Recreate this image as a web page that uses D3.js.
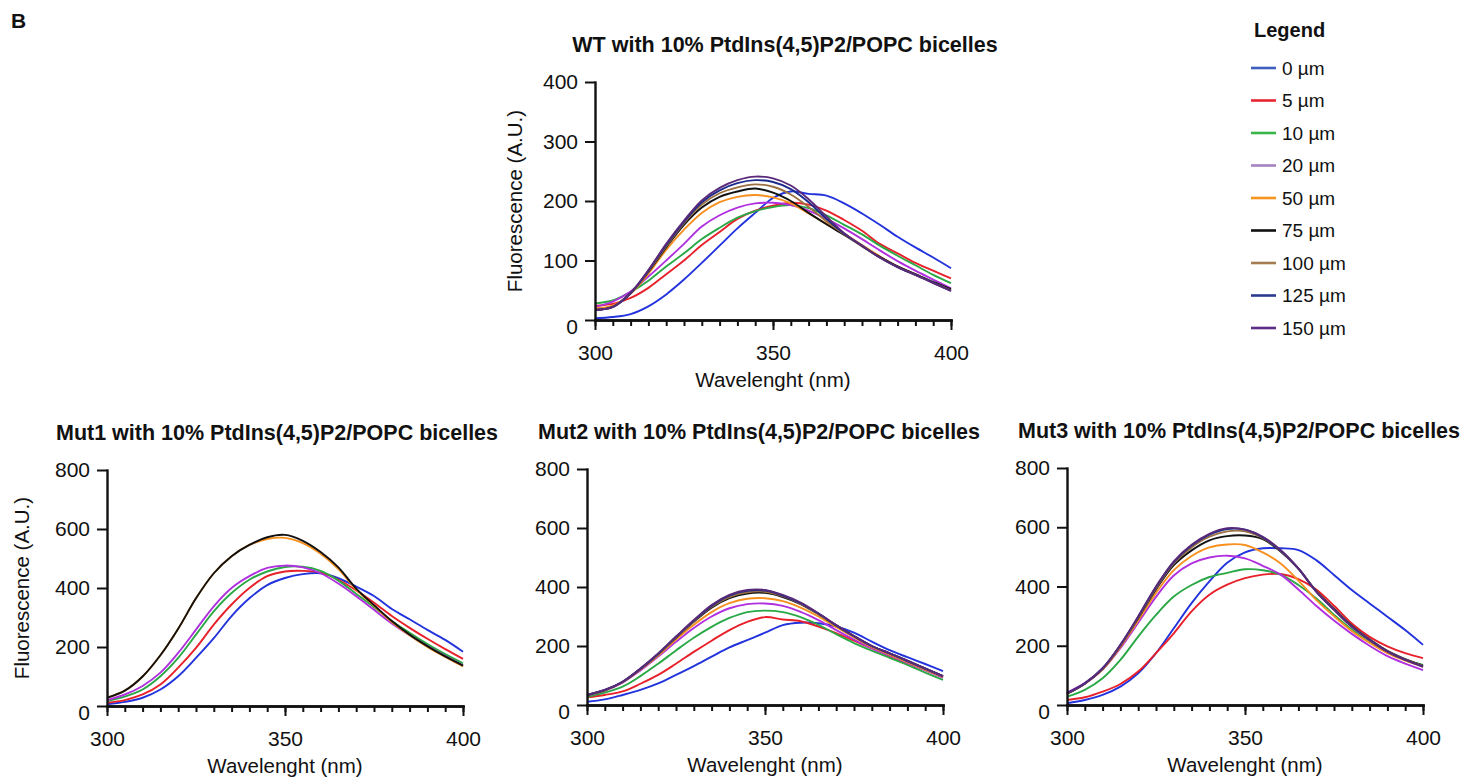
<!DOCTYPE html>
<html>
<head>
<meta charset="utf-8">
<script src="https://cdn.jsdelivr.net/npm/d3@7"></script>
<style>
    body { margin: 0; background: #fff; }
    svg text { font-family: "Liberation Sans", Arial, Helvetica, sans-serif; fill: #111; }
</style>
</head>
<body>
<div id="graph"></div>
<script>
var wavelengths = [ 300, 305, 310, 315, 320, 325, 330, 335, 340, 345, 350, 355, 360, 365, 370, 375, 380, 385, 390, 395, 400 ];
var concentrations = [ "0 µm", "5 µm", "10 µm", "20 µm", "50 µm", "75 µm", "100 µm", "125 µm", "150 µm" ];

// curve colours as they look in the plots, legend swatches are a bit softer
var lineColors = [ "#2233dd", "#e8202a", "#2aa845", "#b030e0", "#f7901e", "#111111", "#9c7040", "#1c2a8c", "#5a2a7a" ];
var legendColors = [ "#3f5fbf", "#e82530", "#3ab54a", "#a683c0", "#f7941d", "#111111", "#a57c52", "#2b3a8e", "#5c2d82" ];

var panelTitles = [
    "WT with 10% PtdIns(4,5)P2/POPC bicelles",
    "Mut1 with 10% PtdIns(4,5)P2/POPC bicelles",
    "Mut2 with 10% PtdIns(4,5)P2/POPC bicelles",
    "Mut3 with 10% PtdIns(4,5)P2/POPC bicelles"
];
var xTickValues = [ 300, 350, 400 ];
var wtYTicks = [ 0, 100, 200, 300, 400 ];
var mutYTicks = [ 0, 200, 400, 600, 800 ];

// one row per concentration, one value per wavelength (A.U.)
var wtValues = [
    [ 3, 5, 10, 23, 43, 68, 96, 125, 154, 180, 205, 216, 212, 209, 196, 179, 160, 140, 122, 105, 87 ],
    [ 24, 27, 37, 54, 77, 100, 126, 148, 170, 184, 192, 197, 194, 184, 168, 150, 128, 112, 96, 83, 70 ],
    [ 28, 33, 47, 66, 90, 112, 136, 155, 172, 183, 190, 193, 188, 176, 160, 144, 125, 108, 92, 76, 62 ],
    [ 22, 31, 48, 73, 100, 128, 157, 176, 189, 196, 197, 193, 184, 170, 154, 136, 117, 99, 83, 68, 53 ],
    [ 20, 24, 44, 78, 118, 152, 180, 198, 207, 210, 206, 196, 179, 162, 145, 126, 107, 90, 77, 63, 50 ],
    [ 17, 22, 45, 81, 122, 160, 189, 207, 216, 221, 214, 200, 180, 161, 143, 124, 106, 90, 77, 64, 52 ],
    [ 17, 22, 45, 82, 124, 163, 194, 213, 223, 228, 224, 211, 190, 166, 144, 124, 105, 89, 76, 63, 50 ],
    [ 17, 22, 45, 83, 126, 165, 198, 218, 230, 235, 232, 220, 198, 170, 145, 125, 105, 89, 76, 63, 49 ],
    [ 17, 22, 46, 84, 128, 167, 201, 222, 235, 241, 238, 226, 203, 174, 146, 125, 105, 89, 76, 62, 49 ]
];
var mut1Values = [
    [ 6, 14, 28, 56, 101, 163, 230, 305, 365, 410, 434, 447, 450, 433, 405, 373, 329, 294, 258, 224, 184 ],
    [ 11, 20, 39, 73, 130, 197, 276, 344, 400, 440, 456, 458, 452, 428, 392, 350, 305, 265, 228, 193, 160 ],
    [ 17, 32, 56, 101, 163, 242, 321, 383, 428, 456, 471, 472, 458, 425, 380, 335, 288, 248, 210, 176, 145 ],
    [ 20, 39, 68, 113, 180, 259, 338, 400, 440, 468, 476, 470, 450, 415, 372, 326, 280, 240, 203, 169, 137 ],
    [ 28, 52, 100, 172, 262, 365, 450, 508, 546, 566, 570, 552, 516, 464, 395, 340, 285, 240, 200, 166, 134 ],
    [ 28, 52, 100, 172, 262, 365, 450, 508, 546, 572, 580, 560, 522, 470, 398, 342, 288, 242, 203, 168, 137 ],
    null,
    null,
    null
];
var mut2Values = [
    [ 11, 19, 34, 51, 73, 102, 132, 164, 195, 220, 245, 271, 279, 277, 266, 245, 215, 186, 162, 139, 115 ],
    [ 26, 34, 46, 72, 102, 140, 180, 218, 254, 282, 298, 290, 284, 266, 244, 218, 192, 166, 142, 118, 94 ],
    [ 28, 42, 62, 98, 140, 185, 228, 265, 295, 315, 320, 315, 298, 272, 240, 210, 184, 160, 136, 110, 85 ],
    [ 33, 49, 76, 117, 164, 214, 261, 300, 328, 342, 344, 336, 316, 288, 254, 222, 192, 168, 143, 118, 93 ],
    [ 34, 50, 77, 120, 168, 222, 272, 315, 345, 360, 362, 352, 330, 300, 264, 229, 196, 171, 145, 120, 95 ],
    [ 34, 50, 78, 122, 172, 228, 282, 330, 362, 378, 380, 366, 342, 308, 270, 234, 200, 175, 150, 124, 98 ],
    [ 34, 50, 78, 122, 172, 229, 284, 333, 366, 382, 384, 369, 343, 309, 270, 233, 199, 174, 148, 122, 97 ],
    [ 34, 51, 79, 123, 174, 231, 286, 336, 371, 387, 388, 371, 345, 310, 270, 233, 200, 175, 149, 123, 98 ],
    [ 34, 51, 79, 124, 175, 232, 288, 339, 373, 390, 390, 373, 347, 311, 271, 234, 200, 175, 150, 124, 98 ]
];
var mut3Values = [
    [ 6, 17, 34, 62, 107, 175, 259, 344, 417, 480, 515, 529, 529, 523, 489, 439, 388, 343, 298, 253, 203 ],
    [ 17, 26, 45, 71, 113, 175, 242, 316, 372, 406, 428, 440, 442, 425, 390, 335, 275, 230, 198, 175, 158 ],
    [ 28, 51, 90, 152, 231, 304, 366, 405, 432, 446, 458, 455, 440, 405, 360, 305, 255, 212, 178, 152, 135 ],
    [ 42, 74, 120, 192, 278, 365, 437, 478, 498, 504, 495, 470, 440, 390, 335, 285, 240, 200, 165, 140, 118 ],
    [ 39, 72, 120, 196, 285, 378, 455, 503, 532, 542, 540, 515, 478, 420, 355, 300, 250, 210, 175, 150, 130 ],
    [ 38, 72, 122, 200, 293, 390, 472, 522, 556, 570, 572, 560, 518, 460, 385, 325, 268, 222, 183, 155, 133 ],
    [ 38, 72, 122, 200, 295, 394, 478, 532, 568, 586, 586, 563, 520, 460, 384, 323, 266, 221, 182, 154, 132 ],
    [ 39, 73, 124, 203, 298, 398, 482, 538, 575, 594, 592, 566, 521, 460, 383, 322, 265, 220, 181, 153, 130 ],
    [ 39, 73, 124, 203, 299, 400, 485, 541, 578, 597, 592, 568, 523, 461, 383, 321, 264, 219, 180, 152, 129 ]
];

var width = 1462;
var height = 782;

var vis = d3.select( "#graph" ).append( "svg" )
    .attr( "width", width )
    .attr( "height", height );

// yTitleX is the centre of the rotated axis title, null when the panel has none
var panels = [
    { title: panelTitles[0], values: wtValues, yTicks: wtYTicks, left: 595, top: 82, w: 356, h: 238, titleDx: 12, yTitleX: 515 },
    { title: panelTitles[1], values: mut1Values, yTicks: mutYTicks, left: 107, top: 470, w: 356, h: 236, titleDx: -8, yTitleX: 22 },
    { title: panelTitles[2], values: mut2Values, yTicks: mutYTicks, left: 587, top: 469, w: 356, h: 236, titleDx: -6, yTitleX: null },
    { title: panelTitles[3], values: mut3Values, yTicks: mutYTicks, left: 1067, top: 468, w: 356, h: 237, titleDx: -6, yTitleX: null }
];

vis.append( "text" )
    .attr( "x", 11 )
    .attr( "y", 28 )
    .style( "font-size", "21px" )
    .style( "font-weight", "bold" )
    .text( "B" );

panels.forEach( function( p ) { drawPanel( vis, p ); });
drawLegend( vis, 1251, 37 );

function drawPanel( vis, p ) {
    var x = d3.scaleLinear().domain( [ 300, 400 ] ).range( [ p.left, p.left + p.w ] );
    var y = d3.scaleLinear().domain( [ 0, d3.max( p.yTicks ) ] ).range( [ p.top + p.h, p.top ] );
    var g = vis.append( "g" );

    var line = d3.line()
        .x( function( d, i ) { return x( wavelengths[i] ); })
        .y( function( d ) { return y( d ); })
        .curve( d3.curveCatmullRom );

    // spectra, drawn from 0 µm up so the high concentrations sit on top
    var series = p.values.map( function( v, i ) { return { values: v, color: lineColors[i] }; })
        .filter( function( s ) { return s.values !== null; });

    g.selectAll( "path.curve" )
        .data( series )
        .enter().append( "path" )
        .attr( "class", "curve" )
        .attr( "fill", "none" )
        .attr( "stroke", function( d ) { return d.color; })
        .attr( "stroke-width", 1.9 )
        .attr( "stroke-linejoin", "round" )
        .attr( "d", function( d ) { return line( d.values ); });

    // minor ticks every 5 nm
    var minor = g.append( "g" )
        .attr( "transform", "translate(0," + y( 0 ) + ")" )
        .call( d3.axisBottom( x ).tickValues( wavelengths ).tickSize( 6 ).tickSizeOuter( 0 ).tickFormat( "" ) );

    var xAxis = g.append( "g" )
        .attr( "transform", "translate(0," + y( 0 ) + ")" )
        .call( d3.axisBottom( x ).tickValues( xTickValues ).tickSize( 10 ).tickSizeOuter( 0 ).tickPadding( 15 ) );

    var yAxis = g.append( "g" )
        .attr( "transform", "translate(" + x( 300 ) + ",0)" )
        .call( d3.axisLeft( y ).tickValues( p.yTicks ).tickSize( 10 ).tickSizeOuter( 0 ).tickPadding( 7 ) );

    [ minor, xAxis, yAxis ].forEach( function( a ) {
        a.selectAll( "path.domain" ).attr( "stroke", "#111" ).attr( "stroke-width", 2.4 ).attr( "stroke-linecap", "square" );
        a.selectAll( ".tick line" ).attr( "stroke", "#111" ).attr( "stroke-width", 2 );
        a.selectAll( "text" ).attr( "font-family", null ).style( "font-size", "21px" ).attr( "fill", "#111" );
    });

    // the zero label sits a little below the axis in the original
    yAxis.selectAll( ".tick text" )
        .filter( function( d ) { return d === 0; })
        .attr( "transform", "translate(0,7)" );

    g.append( "text" )
        .attr( "x", p.left + p.w / 2 + p.titleDx )
        .attr( "y", p.top - 30 )
        .attr( "text-anchor", "middle" )
        .style( "font-size", "21.5px" )
        .style( "font-weight", "bold" )
        .text( p.title );

    g.append( "text" )
        .attr( "x", p.left + p.w / 2 )
        .attr( "y", p.top + p.h + 67 )
        .attr( "text-anchor", "middle" )
        .style( "font-size", "20.5px" )
        .text( "Wavelenght (nm)" );

    if ( p.yTitleX !== null ) {
        g.append( "text" )
            .attr( "transform", "translate(" + p.yTitleX + "," + ( p.top + p.h / 2 ) + ") rotate(-90)" )
            .attr( "text-anchor", "middle" )
            .attr( "dy", "0.35em" )
            .style( "font-size", "20.5px" )
            .text( "Fluorescence (A.U.)" );
    }
}

function drawLegend( vis, x0, y0 ) {
    var step = 32.5;
    var g = vis.append( "g" );

    g.append( "text" )
        .attr( "x", x0 + 3 )
        .attr( "y", y0 )
        .style( "font-size", "20px" )
        .style( "font-weight", "bold" )
        .text( "Legend" );

    var items = g.selectAll( "g.item" )
        .data( concentrations )
        .enter().append( "g" )
        .attr( "class", "item" )
        .attr( "transform", function( d, i ) { return "translate(" + x0 + "," + ( 68 + i * step ) + ")"; });

    items.append( "line" )
        .attr( "x1", 0 )
        .attr( "x2", 25 )
        .attr( "stroke", function( d, i ) { return legendColors[i]; })
        .attr( "stroke-width", 2.6 );

    items.append( "text" )
        .attr( "x", 31 )
        .attr( "dy", "0.36em" )
        .style( "font-size", "19px" )
        .text( function( d ) { return d; });
}
</script>
</body>
</html>
